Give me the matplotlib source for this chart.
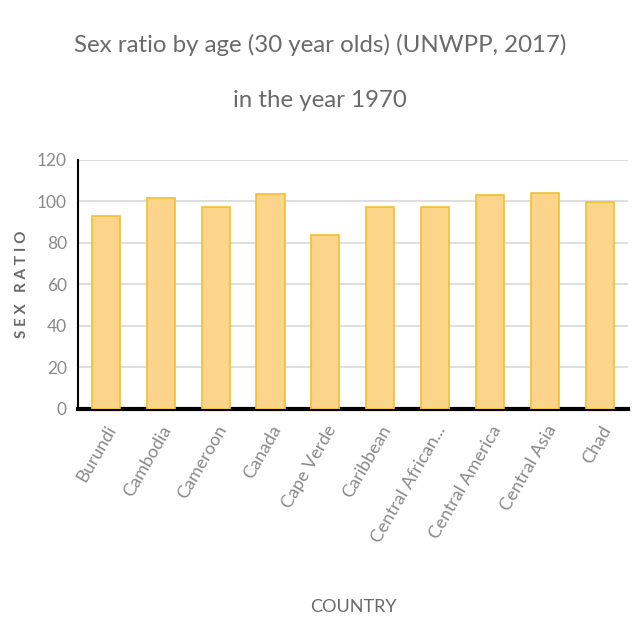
from matplotlib import pyplot as plt
import numpy as np

pays = ['Burundi', 'Cambodia', 'Cameroon', 'Canada', 'Cape Verde', 'Caribbean',
        'Central African...', 'Central America', 'Central Asia', 'Chad']
ratio = [93.2, 101.8, 97.5, 103.5, 83.9, 97.2, 97.2, 103.0, 104.2, 99.9]

gris = '#6a6a6a'
gris_clair = '#8a8a8a'
plt.rcParams['font.family'] = ['Lato', 'DejaVu Sans']

fig = plt.figure(figsize=(6.4, 6.4), dpi=100)
ax = fig.add_axes([0.122, 0.361, 0.859, 0.389])

x = np.arange(len(pays))
ax.bar(x, ratio, width=0.51, color='#FCD58A', edgecolor='#F0C030', linewidth=1.2, zorder=3)

ax.set_xlim(-0.5, len(pays) - 0.5)
ax.set_ylim(0, 120)
ax.set_yticks(np.arange(0, 121, 20))
ax.grid(axis='y', color='#D9D9D9', linewidth=1.2, zorder=0)

for s in ['top', 'right']:
    ax.spines[s].set_visible(False)
ax.spines['left'].set_linewidth(1.5)
ax.spines['bottom'].set_linewidth(3)
ax.spines['left'].set_color('black')
ax.spines['bottom'].set_color('black')

ax.tick_params(axis='both', length=0, colors=gris_clair)
ax.tick_params(axis='y', pad=8, labelsize=12.5)
ax.tick_params(axis='x', pad=10, labelsize=13)
ax.set_xticks(x)
ax.set_xticklabels(pays, rotation=60, ha='right', rotation_mode='anchor')

# étiquettes des axes
ax.set_ylabel('S E X   R A T I O', color=gris, fontsize=11, fontweight='bold', va='center')
ax.yaxis.set_label_coords(-0.102, 0.5)
ax.set_xlabel('COUNTRY', color=gris, fontsize=13, va='center')
ax.xaxis.set_label_coords(0.5, -0.795)

fig.text(0.5, 0.93, 'Sex ratio by age (30 year olds) (UNWPP, 2017)',
         ha='center', va='center', fontsize=17.3, color=gris)
fig.text(0.5, 0.843, 'in the year 1970',
         ha='center', va='center', fontsize=17.3, color=gris)

fig.savefig('out.png', dpi=100)
